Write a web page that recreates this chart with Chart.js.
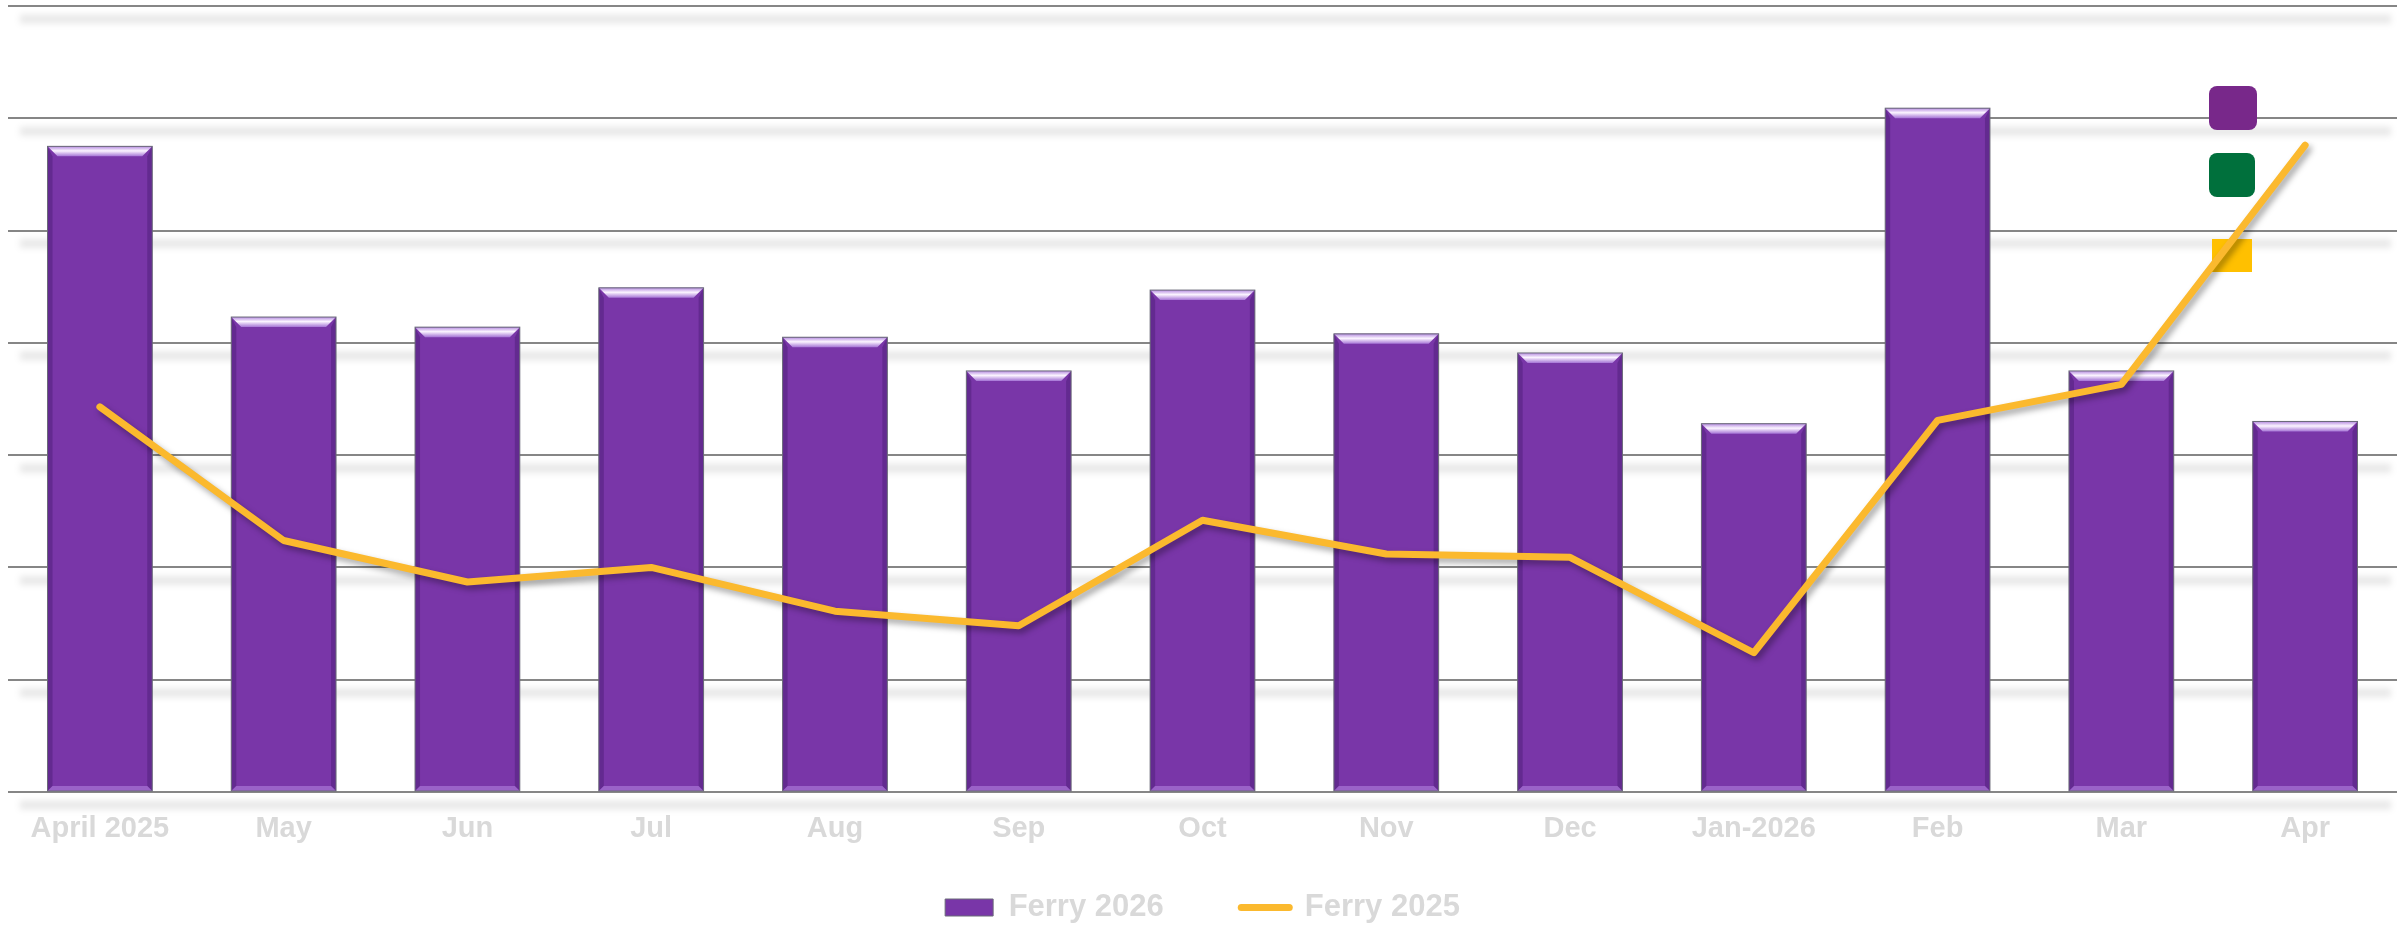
<!DOCTYPE html>
<html>
<head>
<meta charset="utf-8">
<script src="https://cdn.jsdelivr.net/npm/chart.js@4/dist/chart.umd.min.js"></script>
<style>
  html, body { margin: 0; padding: 0; background: #fff; }
  #wrap { width: 2407px; height: 927px; }
</style>
</head>
<body>
<div id="wrap"><canvas id="chart" width="2407" height="927"></canvas></div>
<script>
// categories and series (axis units = gridline steps)
const months = ['April 2025', 'May', 'Jun', 'Jul', 'Aug', 'Sep', 'Oct', 'Nov', 'Dec', 'Jan-2026', 'Feb', 'Mar', 'Apr'];
const ferry2026 = [5.75, 4.23, 4.14, 4.49, 4.05, 3.75, 4.47, 4.08, 3.91, 3.28, 6.09, 3.75, 3.30];
const ferry2025 = [3.43, 2.24, 1.87, 2.00, 1.61, 1.48, 2.42, 2.12, 2.09, 1.24, 3.31, 3.63, 5.76];
const seriesNames = ['Ferry 2026', 'Ferry 2025'];

const labelGray = '#d9d9d9';
const barPurple = '#7936a8';
const lineGold = '#fbb92e';

// soft shadow under each gridline, and the three stray legend swatches
const gridShadow = {
    id: 'gridShadow',
    beforeDatasetsDraw(chart) {
        const { ctx, chartArea, scales } = chart;
        ctx.save();
        scales.y.ticks.forEach(t => {
            const y = scales.y.getPixelForValue(t.value);
            ctx.strokeStyle = 'rgba(0,0,0,0.09)';
            ctx.lineWidth = 9;
            ctx.filter = 'blur(3px)';
            ctx.beginPath();
            ctx.moveTo(chartArea.left + 12, y + 13);
            ctx.lineTo(chartArea.right - 6, y + 13);
            ctx.stroke();
        });
        ctx.filter = 'none';
        // swatches at upper right
        const sw = [
            { c: '#78288a', x: 2209, y: 86, w: 48, h: 44, r: 8 },
            { c: '#00703c', x: 2209, y: 153, w: 46, h: 44, r: 8 },
            { c: '#ffc000', x: 2212, y: 239, w: 40, h: 33, r: 0 }
        ];
        sw.forEach(s => {
            ctx.fillStyle = s.c;
            ctx.beginPath();
            ctx.roundRect(s.x, s.y, s.w, s.h, s.r);
            ctx.fill();
        });
        ctx.restore();
    }
};

// bevel look on the bars, shadow under the line
const barBevel = {
    id: 'barBevel',
    beforeDatasetDraw(chart, args) {
        if (args.index === 1) {
            const { ctx } = chart;
            ctx.save();
            ctx.shadowColor = 'rgba(0,0,0,0.35)';
            ctx.shadowBlur = 6;
            ctx.shadowOffsetX = 3;
            ctx.shadowOffsetY = 4;
        }
    },
    afterDatasetDraw(chart, args) {
        const { ctx } = chart;
        if (args.index === 1) {
            ctx.restore();
            return;
        }
        ctx.save();
        args.meta.data.forEach(bar => {
            const p = bar.getProps(['x', 'y', 'base', 'width'], true);
            const l = p.x - p.width / 2, r = p.x + p.width / 2, t = p.y, b = p.base;
            const bv = 10;
            const g = ctx.createLinearGradient(0, t, 0, t + bv);
            g.addColorStop(0, '#b58be0');
            g.addColorStop(0.45, '#fbf4ff');
            g.addColorStop(1, '#a574d6');
            ctx.fillStyle = g;
            ctx.beginPath();
            ctx.moveTo(l, t); ctx.lineTo(r, t); ctx.lineTo(r - bv, t + bv); ctx.lineTo(l + bv, t + bv);
            ctx.closePath(); ctx.fill();
            ctx.fillStyle = 'rgba(60,20,100,0.35)';
            ctx.beginPath();
            ctx.moveTo(l, t); ctx.lineTo(l + 5, t + bv); ctx.lineTo(l + 5, b - 5); ctx.lineTo(l, b);
            ctx.closePath(); ctx.fill();
            ctx.beginPath();
            ctx.moveTo(r, t); ctx.lineTo(r - 5, t + bv); ctx.lineTo(r - 5, b - 5); ctx.lineTo(r, b);
            ctx.closePath(); ctx.fill();
            ctx.fillStyle = '#9a62c8';
            ctx.beginPath();
            ctx.moveTo(l, b); ctx.lineTo(r, b); ctx.lineTo(r - 5, b - 5); ctx.lineTo(l + 5, b - 5);
            ctx.closePath(); ctx.fill();
            ctx.strokeStyle = '#6a6a78';
            ctx.lineWidth = 1;
            ctx.strokeRect(l, t, r - l, b - t);
        });
        ctx.restore();
    }
};

new Chart(document.getElementById('chart'), {
    type: 'bar',
    data: {
        labels: months,
        datasets: [
            {
                type: 'bar',
                label: seriesNames[0],
                data: ferry2026,
                backgroundColor: barPurple,
                borderWidth: 0,
                categoryPercentage: 1,
                barPercentage: 0.57,
                order: 2
            },
            {
                type: 'line',
                label: seriesNames[1],
                data: ferry2025,
                borderColor: lineGold,
                backgroundColor: lineGold,
                borderWidth: 7,
                borderCapStyle: 'round',
                borderJoinStyle: 'round',
                pointRadius: 0,
                tension: 0,
                order: 1
            }
        ]
    },
    options: {
        responsive: false,
        animation: false,
        layout: { padding: { left: 8, right: 10, top: 6, bottom: -6 } },
        scales: {
            x: {
                grid: { display: false },
                border: { display: false },
                ticks: {
                    color: labelGray,
                    font: { family: 'Liberation Sans', size: 29, weight: 'bold' },
                    padding: 12,
                    maxRotation: 0,
                    autoSkip: false
                },
                afterFit(scale) { scale.height = 93; }
            },
            y: {
                min: 0,
                max: 7,
                ticks: { display: false, stepSize: 1 },
                border: { display: false },
                grid: { color: '#868686', lineWidth: 2, drawTicks: false }
            }
        },
        plugins: {
            legend: {
                position: 'bottom',
                labels: {
                    color: labelGray,
                    font: { family: 'Liberation Sans', size: 31, weight: 'bold' },
                    padding: 7,
                    usePointStyle: true,
                    pointStyleWidth: 48,
                    boxHeight: 17,
                    generateLabels(chart) {
                        // empty middle entry only widens the gap between the two
                        return [
                            { text: seriesNames[0], pointStyle: 'rect', fillStyle: barPurple, strokeStyle: '#6a6a78', lineWidth: 1, fontColor: labelGray, datasetIndex: 0 },
                            { text: '', pointStyle: 'line', fillStyle: 'rgba(0,0,0,0)', strokeStyle: 'rgba(0,0,0,0)', lineWidth: 0, fontColor: labelGray },
                            { text: seriesNames[1], pointStyle: 'line', fillStyle: lineGold, strokeStyle: lineGold, lineWidth: 7, lineCap: 'round', fontColor: labelGray, datasetIndex: 1 }
                        ];
                    }
                }
            },
            tooltip: { enabled: false }
        }
    },
    plugins: [gridShadow, barBevel]
});
</script>
</body>
</html>
